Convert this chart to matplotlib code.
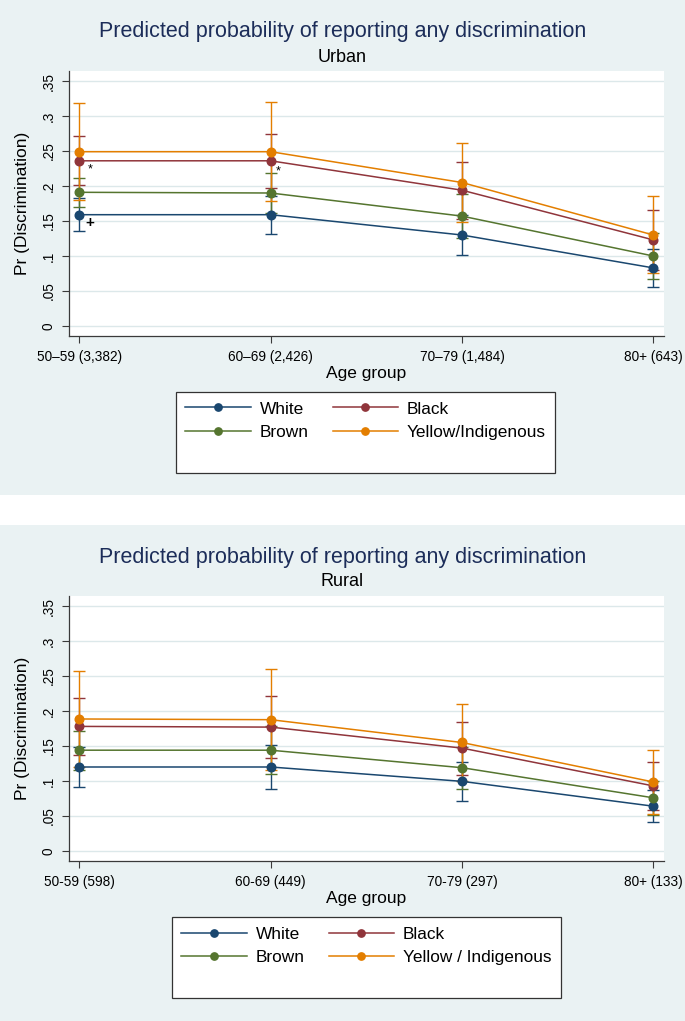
import matplotlib
matplotlib.use("Agg")
import matplotlib.pyplot as plt
from matplotlib.lines import Line2D
from matplotlib.patches import Rectangle
import numpy as np

plt.rcParams['font.family'] = ['Liberation Sans', 'DejaVu Sans']

# ---------------- data ----------------
groups = ["White", "Black", "Brown", "Yellow/Indigenous"]
groups_rural = ["White", "Black", "Brown", "Yellow / Indigenous"]
colors = ["#1A476F", "#90353B", "#55752F", "#E37E00"]

urban_ticks = ["50\u201359 (3,382)", "60\u201369 (2,426)", "70\u201379 (1,484)", "80+ (643)"]
rural_ticks = ["50-59 (598)", "60-69 (449)", "70-79 (297)", "80+ (133)"]

urban_est = {
    "White": [0.159, 0.159, 0.130, 0.083],
    "Black": [0.236, 0.236, 0.194, 0.123],
    "Brown": [0.191, 0.190, 0.157, 0.100],
    "Yellow": [0.249, 0.249, 0.205, 0.130],
}
urban_lo = {
    "White": [0.135, 0.132, 0.102, 0.055],
    "Black": [0.201, 0.197, 0.153, 0.080],
    "Brown": [0.170, 0.161, 0.126, 0.067],
    "Yellow": [0.180, 0.178, 0.148, 0.075],
}
urban_hi = {
    "White": [0.183, 0.186, 0.158, 0.110],
    "Black": [0.271, 0.275, 0.235, 0.166],
    "Brown": [0.212, 0.219, 0.188, 0.133],
    "Yellow": [0.319, 0.320, 0.262, 0.186],
}

rural_est = {
    "White": [0.120, 0.120, 0.0995, 0.064],
    "Black": [0.178, 0.177, 0.147, 0.093],
    "Brown": [0.144, 0.144, 0.119, 0.076],
    "Yellow": [0.1886, 0.1876, 0.155, 0.0986],
}
rural_lo = {
    "White": [0.092, 0.0886, 0.072, 0.041],
    "Black": [0.137, 0.133, 0.109, 0.059],
    "Brown": [0.116, 0.110, 0.089, 0.052],
    "Yellow": [0.120, 0.115, 0.100, 0.053],
}
rural_hi = {
    "White": [0.148, 0.151, 0.127, 0.087],
    "Black": [0.219, 0.221, 0.185, 0.127],
    "Brown": [0.172, 0.178, 0.149, 0.100],
    "Yellow": [0.257, 0.260, 0.210, 0.144],
}

yticks = [0, 0.05, 0.1, 0.15, 0.2, 0.25, 0.3, 0.35]
ytick_labels = ["0", ".05", ".1", ".15", ".2", ".25", ".3", ".35"]

# ---------------- figure ----------------
W, H = 685, 1021
fig = plt.figure(figsize=(W / 100, H / 100), dpi=100)
fig.patch.set_facecolor("white")

BG = "#EAF2F3"
GRID = "#DCE8EA"
TITLE_C = "#1C2D59"
AX_C = "#3A3A3A"


def fx(px):
    return px / W


def fy(py):
    return 1 - py / H


def panel(off, est, lo, hi, ticks, labels, subtitle, leg_left):
    # background of graph region
    top, bottom = (0, 495) if off == 0 else (525, H)
    fig.patches.append(Rectangle((0, fy(bottom)), 1, (bottom - top) / H,
                                 transform=fig.transFigure, facecolor=BG,
                                 edgecolor="none", zorder=-10))
    ax = fig.add_axes([fx(69), fy(off + 336), fx(664) - fx(69), fy(off + 71) - fy(off + 336)])
    ax.set_facecolor("white")
    x = np.arange(len(ticks))
    keys = ["White", "Black", "Brown", "Yellow"]
    # confidence intervals first
    for k, c in zip(keys, colors):
        e = np.array(est[k])
        l = np.array(lo[k])
        h = np.array(hi[k])
        ax.errorbar(x, e, yerr=[e - l, h - e], fmt="none", ecolor=c,
                    elinewidth=1.0, capsize=4, capthick=1.0, zorder=3)
    handles = []
    for k, c, lab in zip(keys, colors, labels):
        ln, = ax.plot(x, est[k], color=c, lw=1.1, marker="o", ms=6.2,
                      mec=c, mfc=c, zorder=4, label=lab)
        handles.append(ln)
    ax.set_xlim(-0.054, 3.056)
    ax.set_ylim(-0.0143, 0.3643)
    ax.set_yticks(yticks)
    ax.set_yticklabels(ytick_labels, rotation=90, va="center")
    ax.set_xticks(x)
    ax.set_xticklabels(ticks)
    ax.tick_params(axis="both", length=4.8, width=0.8, color=AX_C, labelsize=9.8,
                   labelcolor="black")
    ax.tick_params(axis="x", pad=5)
    ax.tick_params(axis="y", pad=5)
    for s in ["top", "right"]:
        ax.spines[s].set_visible(False)
    for s in ["left", "bottom"]:
        ax.spines[s].set_color(AX_C)
        ax.spines[s].set_linewidth(0.9)
    ax.grid(axis="y", color=GRID, lw=1.0, zorder=0)
    ax.set_axisbelow(True)
    ax.set_xlabel("Age group", fontsize=12.5, labelpad=2)
    ax.set_ylabel("Pr (Discrimination)", fontsize=12.5, labelpad=8)

    fig.text(0.5, fy(off + 32), "Predicted probability of reporting any discrimination",
             ha="center", va="center", fontsize=15.5, color=TITLE_C)
    fig.text(0.5, fy(off + 57), subtitle, ha="center", va="center", fontsize=13,
             color="black")

    blank = Line2D([], [], color="none", marker=None)
    leg_handles = [handles[0], handles[2], blank, handles[1], handles[3], blank]
    leg_labels = [labels[0], labels[2], " ", labels[1], labels[3], " "]
    leg = fig.legend(leg_handles, leg_labels, ncol=2, loc="upper left",
                     bbox_to_anchor=(fx(leg_left), fy(off + 392)),
                     borderaxespad=0, frameon=True, fancybox=False, framealpha=1,
                     edgecolor="#333333", fontsize=12.4, handlelength=3.8,
                     handletextpad=0.5, columnspacing=1.4, labelspacing=0.5,
                     borderpad=0.55, markerscale=0.85)
    leg.get_frame().set_linewidth(0.9)
    return ax


ax1 = panel(0, urban_est, urban_lo, urban_hi, urban_ticks, groups, "Urban", 176)
ax2 = panel(525, rural_est, rural_lo, rural_hi, rural_ticks, groups_rural, "Rural", 172)

# significance markers (urban panel)
ax1.annotate("*", xy=(0, urban_est["Black"][0]), xytext=(8, -6), textcoords="offset points",
             ha="center", va="center", fontsize=9, color="black")
ax1.annotate("*", xy=(1, urban_est["Black"][1]), xytext=(5.5, -8), textcoords="offset points",
             ha="center", va="center", fontsize=9, color="black")
ax1.annotate("+", xy=(0, urban_est["White"][0]), xytext=(7.5, -6), textcoords="offset points",
             ha="center", va="center", fontsize=11, fontweight="bold", color="black")

fig.savefig("out.png", dpi=100, facecolor=fig.get_facecolor())
